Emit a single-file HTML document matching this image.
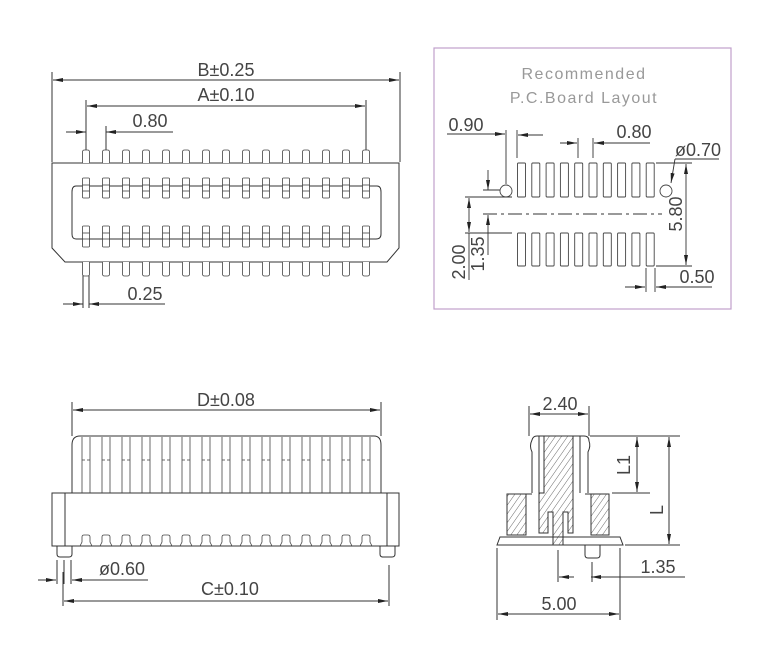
<!DOCTYPE html>
<html><head><meta charset="utf-8"><style>
html,body{margin:0;padding:0;background:#fff}
svg{display:block}
text{font-family:"Liberation Sans",sans-serif;font-size:18px;fill:#444}
</style></head><body>
<svg width="768" height="658" viewBox="0 0 768 658" xmlns="http://www.w3.org/2000/svg">
<defs>
<marker id="a" viewBox="0 0 10 4" refX="10" refY="2" markerWidth="10" markerHeight="4" markerUnits="userSpaceOnUse" orient="auto-start-reverse"><path d="M0,0 L10,2 L0,4Z" fill="#222"/></marker>
<pattern id="h" width="5" height="5" patternUnits="userSpaceOnUse" patternTransform="rotate(35)"><line x1="0" y1="0" x2="0" y2="5" stroke="#444" stroke-width="0.8"/></pattern>
</defs>
<g stroke="#333" stroke-width="1" fill="none">
<line x1="52" y1="72" x2="52" y2="162"/><line x1="400" y1="72" x2="400" y2="162"/>
<line x1="53" y1="80" x2="399" y2="80" marker-start="url(#a)" marker-end="url(#a)"/>
<line x1="86" y1="100" x2="86" y2="150"/><line x1="366" y1="100" x2="366" y2="150"/>
<line x1="87" y1="106" x2="365" y2="106" marker-start="url(#a)" marker-end="url(#a)"/>
<line x1="106" y1="126" x2="106" y2="150"/>
<line x1="66" y1="132" x2="86" y2="132" marker-end="url(#a)"/>
<line x1="173" y1="132" x2="106" y2="132" marker-end="url(#a)"/>
<path d="M52,163 H399 V248 L387,262 H65 L52,248 Z"/>
<path d="M76,186 H377 Q381,186 381,192 V234 Q381,239 376,239 H76 Q72,239 72,234 V192 Q72,186 76,186"/>
<line x1="83" y1="275" x2="83" y2="308"/><line x1="89" y1="275" x2="89" y2="308"/>
<line x1="63" y1="304" x2="83" y2="304" marker-end="url(#a)"/>
<line x1="165" y1="304" x2="89" y2="304" marker-end="url(#a)"/>
</g>
<g stroke="#444" stroke-width="0.8" fill="#fff" id="tp"></g>
<text x="226" y="76" text-anchor="middle">B±0.25</text>
<text x="226" y="101" text-anchor="middle">A±0.10</text>
<text x="150" y="127" text-anchor="middle">0.80</text>
<text x="145" y="300" text-anchor="middle">0.25</text>

<!-- PCB -->
<rect x="434" y="48" width="297" height="261" fill="none" stroke="#c0a0cc" stroke-width="1.2"/>
<text x="584" y="79" text-anchor="middle" style="fill:#999;font-size:16px;letter-spacing:1.5px">Recommended</text>
<text x="584" y="103" text-anchor="middle" style="fill:#999;font-size:16px;letter-spacing:1.5px">P.C.Board  Layout</text>
<g stroke="#444" stroke-width="0.9" fill="none" id="pads">
<circle cx="506" cy="191" r="6"/><circle cx="666" cy="191" r="6"/>
</g>
<g stroke="#333" stroke-width="0.9" fill="none">
<line x1="483" y1="214" x2="662" y2="214" stroke-dasharray="14,4,3,4"/>
<line x1="447" y1="134" x2="505" y2="134" marker-end="url(#a)"/>
<line x1="506" y1="130" x2="506" y2="184"/>
<line x1="517" y1="130" x2="517" y2="158"/>
<line x1="543" y1="135" x2="518" y2="135" marker-end="url(#a)"/>
<line x1="578" y1="138" x2="578" y2="158"/><line x1="593" y1="138" x2="593" y2="158"/>
<line x1="560" y1="143" x2="577" y2="143" marker-end="url(#a)"/>
<line x1="650" y1="143" x2="594" y2="143" marker-end="url(#a)"/>
<line x1="675" y1="159" x2="719" y2="159"/>
<line x1="675" y1="159" x2="671" y2="183" marker-end="url(#a)"/>
<line x1="656" y1="163" x2="692" y2="163"/><line x1="656" y1="266" x2="692" y2="266"/>
<line x1="686" y1="164" x2="686" y2="265" marker-start="url(#a)" marker-end="url(#a)"/>
<line x1="488" y1="170" x2="488" y2="190" marker-end="url(#a)"/>
<line x1="483" y1="190" x2="500" y2="190"/>
<line x1="465" y1="197" x2="512" y2="197"/><line x1="465" y1="233" x2="512" y2="233"/>
<line x1="469" y1="198" x2="469" y2="232" marker-start="url(#a)" marker-end="url(#a)"/>
<line x1="469" y1="233" x2="469" y2="280"/>
<line x1="488" y1="255" x2="488" y2="215" marker-end="url(#a)"/>
<line x1="646" y1="268" x2="646" y2="292"/><line x1="655" y1="268" x2="655" y2="292"/>
<line x1="625" y1="287" x2="645" y2="287" marker-end="url(#a)"/>
<line x1="712" y1="287" x2="656" y2="287" marker-end="url(#a)"/>
</g>
<text x="466" y="131" text-anchor="middle">0.90</text>
<text x="634" y="138" text-anchor="middle">0.80</text>
<text x="698" y="156" text-anchor="middle">ø0.70</text>
<text x="697" y="283" text-anchor="middle">0.50</text>
<text transform="translate(682,214) rotate(-90)" text-anchor="middle">5.80</text>
<text transform="translate(465,262) rotate(-90)" text-anchor="middle">2.00</text>
<text transform="translate(484,254) rotate(-90)" text-anchor="middle">1.35</text>

<!-- SIDE VIEW -->
<g stroke="#333" stroke-width="1" fill="none">
<line x1="72" y1="402" x2="72" y2="436"/><line x1="381" y1="402" x2="381" y2="436"/>
<line x1="73" y1="410" x2="380" y2="410" marker-start="url(#a)" marker-end="url(#a)"/>
<path d="M72,493 V445 Q72,436 80,436 H374 Q381,436 381,445 V493"/>
<rect x="52" y="493" width="347" height="53"/>
<line x1="65" y1="493" x2="65" y2="546"/><line x1="387" y1="493" x2="387" y2="546"/>
<path d="M57,546 V554 Q57,557 60,557 H69 Q72,557 72,554 V546"/>
<path d="M380,546 V554 Q380,557 383,557 H392 Q395,557 395,554 V546"/>
<line x1="57" y1="560" x2="57" y2="584"/><line x1="64" y1="560" x2="64" y2="584"/><line x1="71" y1="560" x2="71" y2="584"/>
<line x1="38" y1="580" x2="56" y2="580" marker-end="url(#a)"/>
<line x1="148" y1="580" x2="72" y2="580" marker-end="url(#a)"/>
<line x1="63" y1="572" x2="63" y2="606"/><line x1="389" y1="565" x2="389" y2="606"/>
<line x1="64" y1="601" x2="388" y2="601" marker-start="url(#a)" marker-end="url(#a)"/>
</g>
<g id="sp" stroke="#444" stroke-width="0.8" fill="none"></g>
<text x="226" y="406" text-anchor="middle">D±0.08</text>
<text x="122" y="575" text-anchor="middle">ø0.60</text>
<text x="230" y="595" text-anchor="middle">C±0.10</text>

<!-- END VIEW -->
<g stroke="#333" stroke-width="1">
<rect x="507" y="494" width="19" height="41" fill="url(#h)"/>
<rect x="591" y="494" width="18" height="41" fill="url(#h)"/>
<path d="M544,436 H573 V533 H568 V512 H563 V545 H553 V512 H548 V533 H539 V493 H544 Z" fill="url(#h)"/>
<path d="M532,493 V452 Q529,446 532,440 Q533,436 537,436 H584 Q589,436 589,441 Q591,446 588,452 V493" fill="none"/>
<line x1="539" y1="436" x2="539" y2="493" fill="none"/>
<line x1="580" y1="436" x2="580" y2="493" fill="none"/>
<path d="M526,494 H532 M585,494 H591" fill="none"/>
<path d="M497,545 L500,537 H620 L623,545 Z" fill="none"/>
<path d="M585,545 V555 Q585,558 588,558 H597 Q600,558 600,555 V545" fill="none"/>
</g>
<g stroke="#333" stroke-width="1" fill="none">
<line x1="529" y1="406" x2="529" y2="436"/><line x1="589" y1="406" x2="589" y2="436"/>
<line x1="530" y1="414" x2="588" y2="414" marker-start="url(#a)" marker-end="url(#a)"/>
<line x1="590" y1="436" x2="680" y2="436"/>
<line x1="612" y1="493" x2="650" y2="493"/>
<line x1="625" y1="545" x2="680" y2="545"/>
<line x1="637" y1="437" x2="637" y2="492" marker-start="url(#a)" marker-end="url(#a)"/>
<line x1="669" y1="437" x2="669" y2="544" marker-start="url(#a)" marker-end="url(#a)"/>
<line x1="558" y1="550" x2="558" y2="582"/><line x1="592" y1="562" x2="592" y2="582"/>
<line x1="559" y1="577" x2="574" y2="577" marker-start="url(#a)"/>
<line x1="591" y1="577" x2="685" y2="577" marker-start="url(#a)"/>
<line x1="497" y1="548" x2="497" y2="620"/><line x1="620" y1="548" x2="620" y2="620"/>
<line x1="498" y1="614" x2="619" y2="614" marker-start="url(#a)" marker-end="url(#a)"/>
</g>
<text x="560" y="410" text-anchor="middle">2.40</text>
<text transform="translate(630,465) rotate(-90)" text-anchor="middle">L1</text>
<text transform="translate(663,510) rotate(-90)" text-anchor="middle">L</text>
<text x="658" y="573" text-anchor="middle">1.35</text>
<text x="559" y="610" text-anchor="middle">5.00</text>
</svg>
<script>
var ns="http://www.w3.org/2000/svg";
function el(p,t,a){var e=document.createElementNS(ns,t);for(var k in a)e.setAttribute(k,a[k]);p.appendChild(e);return e;}
var tp=document.getElementById("tp");
for(var i=0;i<15;i++){var c=86+i*20;
 el(tp,"path",{d:"M"+(c-3.5)+",163 V152 Q"+(c-3.5)+",150 "+(c-1.5)+",150 H"+(c+1.5)+" Q"+(c+3.5)+",150 "+(c+3.5)+",152 V163"});
 el(tp,"path",{d:"M"+(c-3.5)+",262 V274 Q"+(c-3.5)+",276 "+(c-1.5)+",276 H"+(c+1.5)+" Q"+(c+3.5)+",276 "+(c+3.5)+",274 V262"});
 [[178,198],[226,247]].forEach(function(r){el(tp,"rect",{x:c-3.5,y:r[0],width:7,height:r[1]-r[0],rx:1});
  el(tp,"line",{x1:c-3.5,x2:c+3.5,y1:r[0]+7,y2:r[0]+7});el(tp,"line",{x1:c-3.5,x2:c+3.5,y1:r[0]+13,y2:r[0]+13});});
}
var pads=document.getElementById("pads");
for(var i=0;i<10;i++){var x=517.5+i*14.3;
 el(pads,"rect",{x:x,y:163,width:8,height:34,rx:1});
 el(pads,"rect",{x:x,y:233,width:8,height:33,rx:1});}
var sp=document.getElementById("sp");
for(var i=0;i<15;i++){var c=86+i*20;
 el(sp,"line",{x1:c-4,x2:c-4,y1:437,y2:493});el(sp,"line",{x1:c+4,x2:c+4,y1:437,y2:493});
 el(sp,"line",{x1:c-4,x2:c-1,y1:460,y2:460});el(sp,"line",{x1:c+1,x2:c+4,y1:460,y2:460});
 el(sp,"path",{d:"M"+(c-6)+",546 L"+(c-4)+",542 V537 Q"+(c-4)+",535 "+(c-2)+",535 H"+(c+2)+" Q"+(c+4)+",535 "+(c+4)+",537 V542 L"+(c+6)+",546"});
}
</script>
</body></html>
